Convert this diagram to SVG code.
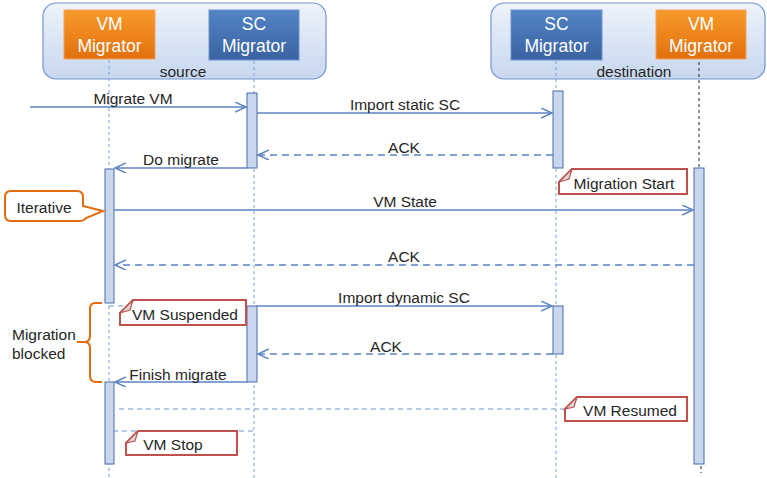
<svg xmlns="http://www.w3.org/2000/svg" width="767" height="478" viewBox="0 0 767 478">
<defs>
<linearGradient id="grp" x1="0" y1="0" x2="0" y2="1">
<stop offset="0" stop-color="#EEF3FB"/><stop offset="1" stop-color="#C7D7EF"/>
</linearGradient>
<linearGradient id="org" x1="0" y1="0" x2="0" y2="1">
<stop offset="0" stop-color="#F79A2A"/><stop offset="1" stop-color="#E2700E"/>
</linearGradient>
<linearGradient id="blu" x1="0" y1="0" x2="0" y2="1">
<stop offset="0" stop-color="#5384C4"/><stop offset="1" stop-color="#3A62A2"/>
</linearGradient>
<marker id="arr" markerUnits="userSpaceOnUse" markerWidth="14" markerHeight="14" refX="11" refY="5" orient="auto">
<path d="M0,0 L11,5 L0,10" fill="none" stroke="#5B84C4" stroke-width="1.5"/>
</marker>
<style>
.grp{fill:url(#grp);stroke:#7496CE;stroke-width:1.2}
.org{fill:url(#org);stroke:#F4A460;stroke-width:1}
.blu{fill:url(#blu);stroke:#6C94CC;stroke-width:1}
.ht{font-family:"Liberation Sans",Arial,sans-serif;font-size:17.5px;fill:#fff;text-anchor:middle}
.t{font-family:"Liberation Sans",Arial,sans-serif;font-size:15.5px;fill:#262626}
.c{text-anchor:middle}
.life{stroke:#7BA0D6;stroke-width:1;stroke-dasharray:3 3;fill:none}
.lifek{stroke:#222;stroke-width:1;stroke-dasharray:3 3;fill:none}
.bar{fill:#C8D7EE;stroke:#4A6DA8;stroke-width:1}
.msg{stroke:#5B84C4;stroke-width:1.5;fill:none}
.dash{stroke-dasharray:7 5}
.anc{stroke:#6E95D0;stroke-width:1;stroke-dasharray:5 4;fill:none}
.note{fill:#fff;stroke:#C0504D;stroke-width:2}
.fold{fill:#D9D9D9;stroke:#C0504D;stroke-width:1.2}
.call{fill:#fff;stroke:#E46C0A;stroke-width:2}
</style>
</defs>
<rect width="767" height="478" fill="#fff"/>

<g id="source-group">
<rect class="grp" x="43" y="3" width="283" height="76" rx="13"/>
<text class="t c" x="183" y="77">source</text>
</g>
<g id="destination-group">
<rect class="grp" x="491" y="3" width="274" height="76" rx="13"/>
<text class="t c" x="634" y="77">destination</text>
</g>

<g id="lifelines">
<line class="life" x1="109" y1="60" x2="109" y2="478"/>
<line class="life" x1="254" y1="61" x2="254" y2="478"/>
<line class="life" x1="556" y1="61" x2="556" y2="478"/>
<line class="lifek" x1="699" y1="62" x2="699" y2="168"/>
<line class="lifek" x1="701" y1="466" x2="701" y2="473"/>
</g>

<g id="src-vm">
<rect class="org" x="64" y="10" width="91" height="49"/>
<text class="ht" x="109.5" y="30">VM</text>
<text class="ht" x="109.5" y="52">Migrator</text>
</g>
<g id="src-sc">
<rect class="blu" x="209" y="10" width="90" height="50"/>
<text class="ht" x="254" y="30">SC</text>
<text class="ht" x="254" y="52">Migrator</text>
</g>
<g id="dst-sc">
<rect class="blu" x="511" y="10" width="91" height="50"/>
<text class="ht" x="556.5" y="30">SC</text>
<text class="ht" x="556.5" y="52">Migrator</text>
</g>
<g id="dst-vm">
<rect class="org" x="656" y="10" width="90" height="49"/>
<text class="ht" x="701" y="30">VM</text>
<text class="ht" x="701" y="52">Migrator</text>
</g>

<g id="activations">
<rect class="bar" x="247" y="93" width="10" height="75"/>
<rect class="bar" x="553" y="91" width="10" height="77"/>
<rect class="bar" x="105" y="169" width="9" height="134"/>
<rect class="bar" x="694" y="168" width="10" height="296"/>
<rect class="bar" x="247" y="306" width="10" height="76"/>
<rect class="bar" x="553" y="306" width="10" height="48"/>
<rect class="bar" x="105" y="382" width="9" height="82"/>
</g>

<g id="connectors">
<line class="msg" x1="30" y1="107" x2="246" y2="107" marker-end="url(#arr)"/>
<line class="msg" x1="257" y1="113" x2="552" y2="113" marker-end="url(#arr)"/>
<line class="msg dash" x1="553" y1="155" x2="258" y2="155" marker-end="url(#arr)"/>
<line class="msg" x1="247" y1="168" x2="115" y2="168" marker-end="url(#arr)"/>
<line class="msg" x1="114" y1="210" x2="693" y2="210" marker-end="url(#arr)"/>
<line class="msg dash" x1="694" y1="265" x2="115" y2="265" marker-end="url(#arr)"/>
<line class="msg" x1="257" y1="306" x2="552" y2="306" marker-end="url(#arr)"/>
<line class="msg dash" x1="553" y1="354" x2="258" y2="354" marker-end="url(#arr)"/>
<line class="msg" x1="247" y1="382" x2="115" y2="382" marker-end="url(#arr)"/>
<line class="anc" x1="109" y1="306" x2="124" y2="306"/>
<line class="anc" x1="119" y1="409" x2="566" y2="409"/>
<line class="anc" x1="113" y1="431" x2="254" y2="431"/>
</g>

<g id="labels">
<text class="t c" x="133" y="104">Migrate VM</text>
<text class="t c" x="405" y="110">Import static SC</text>
<text class="t c" x="404" y="153">ACK</text>
<text class="t c" x="181" y="165">Do migrate</text>
<text class="t c" x="405" y="207">VM State</text>
<text class="t c" x="404" y="262">ACK</text>
<text class="t c" x="404" y="303">Import dynamic SC</text>
<text class="t c" x="386" y="352">ACK</text>
<text class="t c" x="178" y="380">Finish migrate</text>
</g>

<g id="note-migration-start">
<path class="note" d="M559,182 L572,169 L687,169 L687,194 L559,194 Z"/>
<path class="fold" d="M559,182 L572,169 L569,179 Z"/>
<text class="t c" x="624" y="189">Migration Start</text>
</g>
<g id="note-vm-suspended">
<path class="note" d="M120,313 L133,300 L246,300 L246,325 L120,325 Z"/>
<path class="fold" d="M120,313 L133,300 L130,310 Z"/>
<text class="t c" x="185" y="320">VM Suspended</text>
</g>
<g id="note-vm-resumed">
<path class="note" d="M565,409 L577,397 L687,397 L687,421 L565,421 Z"/>
<path class="fold" d="M565,409 L577,397 L574,407 Z"/>
<text class="t c" x="630" y="416">VM Resumed</text>
</g>
<g id="note-vm-stop">
<path class="note" d="M126,443 L138,431 L237,431 L237,455 L126,455 Z"/>
<path class="fold" d="M126,443 L138,431 L135,441 Z"/>
<text class="t c" x="173" y="450">VM Stop</text>
</g>

<g id="callout-iterative">
<path class="call" d="M11,191 L77,191 Q83,191 83,197 L83,206 L103,211 L86,218 Q84,221 79,221 L11,221 Q5,221 5,215 L5,197 Q5,191 11,191 Z"/>
<text class="t c" x="44" y="213">Iterative</text>
</g>

<g id="brace-migration-blocked">
<path d="M102,303 L95,303 Q90,303 90,309 L90,336 Q90,342 84,342 L77,342 L84,342 Q90,342 90,348 L90,376 Q90,382 96,382 L102,382" fill="none" stroke="#E46C0A" stroke-width="2"/>
<text class="t" x="12" y="340">Migration</text>
<text class="t" x="12" y="359">blocked</text>
</g>
</svg>
